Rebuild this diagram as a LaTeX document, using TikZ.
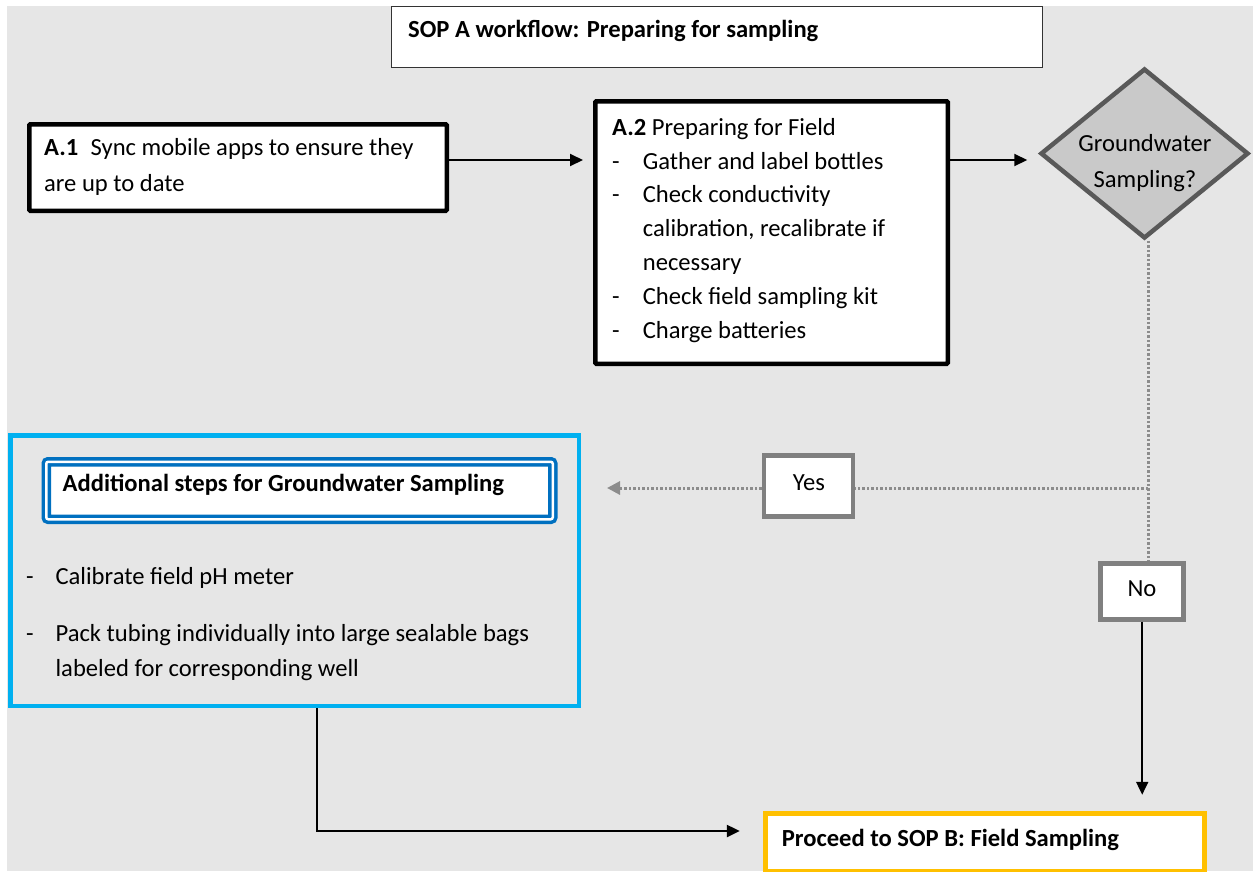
\documentclass[tikz,border=0pt]{standalone}
\usepackage{fontspec}
\setmainfont{Carlito}
\usetikzlibrary{arrows.meta,shapes.geometric}

\definecolor{pagebg}{HTML}{E6E6E6}
\definecolor{lightblue}{HTML}{00B0F0}
\definecolor{darkblue}{HTML}{0070C0}
\definecolor{amber}{HTML}{FFC000}
\definecolor{decisionfill}{HTML}{C9C9C9}
\definecolor{decisionline}{HTML}{595959}
\definecolor{labelgray}{HTML}{808080}
\definecolor{dotgray}{HTML}{8C8C8C}

% multi-line nodes sit on the baseline of their last line
\tikzset{
  x=1pt, y=-1pt,
  stepbox/.style={draw=black, fill=white, line width=4.5pt, rounded corners=1pt, inner sep=0pt},
  headbox/.style={draw=black!80, fill=white, line width=1.2pt, inner sep=0pt},
  choicebox/.style={draw=labelgray, fill=white, line width=4.5pt, inner sep=0pt},
  decision/.style={diamond, draw=decisionline, fill=decisionfill, line width=4.5pt, inner sep=0pt},
  txt/.style={inner sep=0pt, anchor=base west, align=left, font=\fontsize{24.6}{33.8}\selectfont},
  boldtxt/.style={txt, font=\fontsize{24.6}{33.8}\selectfont\bfseries},
  ctxt/.style={inner sep=0pt, anchor=base, align=center, font=\fontsize{24.6}{36}\selectfont},
  conn/.style={line width=2pt, -{Triangle[length=13pt,width=12pt]}},
  dotline/.style={draw=dotgray, line width=3pt, dash pattern=on 2.5pt off 2pt},
}

\newcommand{\dashitem}[1]{\makebox[30.7pt][l]{-}#1}
\newcommand{\contline}[1]{\hspace*{30.7pt}#1}

\begin{document}
\begin{tikzpicture}
  \clip (0,0) rectangle (1253,871);
  \fill[pagebg] (7,6) rectangle (1253,871);

  % heading
  \node[headbox, minimum width=651pt, minimum height=61pt] (head) at (717,37) {};
  \node[boldtxt] (headtxt) at (408,37.3) {SOP A workflow: Preparing for sampling};

  % step A.1
  \node[stepbox, minimum width=417.5pt, minimum height=86.5pt] (a1) at (238,167.5) {};
  \node[txt] (a1txt) at (44,191)
    {\textbf{A.1}\enspace Sync mobile apps to ensure they\\[2.2pt] are up to date};

  % step A.2
  \node[stepbox, minimum width=352.5pt, minimum height=262.5pt] (a2) at (771.5,232.5) {};
  \node[txt] (a2txt) at (612,338)
    {\textbf{A.2} Preparing for Field\\
     \dashitem{Gather and label bottles}\\
     \dashitem{Check conductivity}\\
     \contline{calibration, recalibrate if}\\
     \contline{necessary}\\
     \dashitem{Check field sampling kit}\\
     \dashitem{Charge batteries}};

  % decision
  \node[decision, minimum width=208pt, minimum height=170pt] (dia) at (1144.5,153.5) {};
  \node[ctxt] (diatxt) at (1145,187) {Groundwater\\Sampling?};

  % answer labels
  \node[choicebox, minimum width=89pt, minimum height=61pt] (yes) at (808.3,486) {};
  \node[ctxt] (yestxt) at (809,490) {Yes};
  \node[choicebox, minimum width=83pt, minimum height=56pt] (no) at (1142.2,591.3) {};
  \node[ctxt] (notxt) at (1142,596.7) {No};

  % groundwater-only steps
  \node[draw=lightblue, line width=4.5pt, minimum width=568.5pt, minimum height=270.5pt, inner sep=0pt]
    (addl) at (294.5,570.5) {};
  \node[draw=darkblue, double=white, double distance=2.5pt, line width=3.5pt, fill=white,
        rounded corners=2pt, minimum width=506.5pt, minimum height=57.5pt, inner sep=0pt]
    (addlhead) at (299.5,490.5) {};
  \node[boldtxt] (addlheadtxt) at (62.5,491.7) {Additional steps for Groundwater Sampling};
  \node[txt, font=\fontsize{24.6}{34.3}\selectfont] (addltxt) at (26,676)
    {\makebox[29.4pt][l]{-}Calibrate field pH meter\\[23.4pt]
     \makebox[29.4pt][l]{-}Pack tubing individually into large sealable bags\\
     \hspace*{29.4pt}labeled for corresponding well};

  % next SOP
  \node[draw=amber, fill=white, line width=4.5pt, minimum width=439pt, minimum height=57.5pt, inner sep=0pt]
    (final) at (985,842.25) {};
  \node[boldtxt] (finaltxt) at (781.6,846.7) {Proceed to SOP B: Field Sampling};

  % connectors
  \coordinate (row) at (0,160);
  \coordinate (junction) at (1148,488);
  \coordinate (bend) at (317,831);

  \draw[conn, shorten >=10pt] (a1.east |- row) -- (a2.west |- row);
  \draw[conn, shorten >=11pt] (a2.east |- row) -- (dia.west |- row);

  \draw[dotline] (dia.south -| junction) -- (no.north -| junction);
  \draw[dotline] (junction) -- (yes.east |- junction);
  \draw[dotline, -{Triangle[length=13pt,width=13pt,fill=dotgray]}, shorten >=26pt]
    (yes.west |- junction) -- (addl.east |- junction);

  \draw[conn, shorten >=16.5pt] (no.south) -- (final.north -| no.south);
  \draw[conn, line width=2.5pt, shorten >=23.5pt] (addl.south -| bend) -- (bend) -- (final.west |- bend);
\end{tikzpicture}
\end{document}
